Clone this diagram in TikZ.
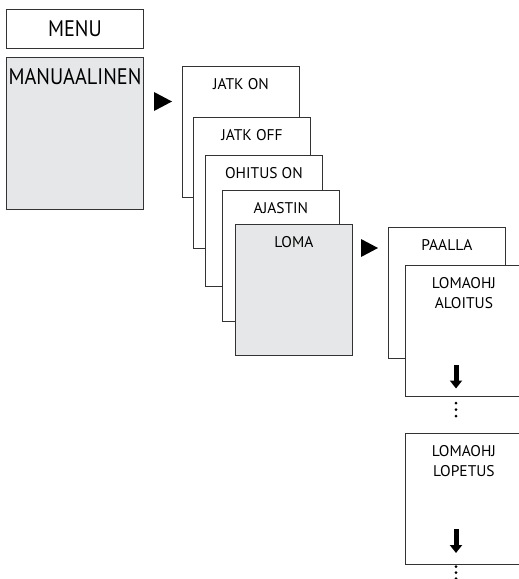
\documentclass[tikz,border=0pt]{standalone}
\usepackage{fontspec}
\setmainfont{PT Sans}
\usepackage{xcolor}
\usetikzlibrary{positioning,arrows.meta,calc}
\definecolor{menugray}{HTML}{E6E7E8}

\begin{document}
\begin{tikzpicture}[x=1pt, y=-1pt,
	menubox/.style={draw=black!80, line width=0.9pt, fill=white, anchor=north west,
		inner sep=0pt, minimum width=117pt, minimum height=131pt},
	boxtext/.style={inner sep=0pt, font=\fontsize{15.5}{20}\selectfont, align=center},
	bigtext/.style={inner sep=0pt, xscale=0.9, font=\fontsize{22.5}{26}\selectfont},
	downarrow/.style={line width=5pt, -{Triangle[width=12pt, length=8pt]}}]
		\useasboundingbox (0,0) rectangle (519,579);
		\clip (0,0) rectangle (519,579);
		% top level
		\node[menubox, minimum width=137pt, minimum height=39pt] (menu) at (6,9) {};
		\node[bigtext] (menu-t) at (menu.center) {MENU};
		\node[menubox, fill=menugray, minimum width=137pt, minimum height=152pt]
			(manual) at (6,57) {};
		\node[bigtext, below=11pt of manual.north] (manual-t) {MANUAALINEN};
		% next level marker
		\fill (154,92) -- (172,101.5) -- (154,111) -- cycle;
		% stacked sub menu
		\node[menubox] (jatkon) at (182,66) {};
		\node[boxtext, below=12pt of jatkon.north] (jatkon-t) {JATK ON};
		\node[menubox] (jatkoff) at (193,117) {};
		\node[boxtext, below=12pt of jatkoff.north] (jatkoff-t) {JATK OFF};
		\node[menubox] (ohitus) at (205,155) {};
		\node[boxtext, below=12pt of ohitus.north] (ohitus-t) {OHITUS ON};
		\node[menubox] (ajastin) at (222,190) {};
		\node[boxtext, below=12pt of ajastin.north] (ajastin-t) {AJASTIN};
		\node[menubox, fill=menugray] (loma) at (235,224) {};
		\node[boxtext, below=12pt of loma.north] (loma-t) {LOMA};
		% next level marker
		\fill (361,239) -- (378,248) -- (361,257) -- cycle;
		% holiday sub menu
		\node[menubox] (paalla) at (388,227) {};
		\node[boxtext, below=12pt of paalla.north] (paalla-t) {PAALLA};
		\node[menubox] (aloitus) at (405,265) {};
		\node[boxtext, below=12pt of aloitus.north] (aloitus-t) {LOMAOHJ\\ALOITUS};
		\node[menubox] (lopetus) at (405,433) {};
		\node[boxtext, below=12pt of lopetus.north] (lopetus-t) {LOMAOHJ\\LOPETUS};
		% down arrows
		\coordinate (a1) at (456,365);
		\coordinate (a2) at (456,388.5);
		\coordinate (b1) at (456,529);
		\coordinate (b2) at (456,553);
		\draw[downarrow] (a1) -- (a2);
		\draw[downarrow] (b1) -- (b2);
		% dots
		\foreach \y in {403,409.5,416} \fill (456,\y) circle (1.5);
		\foreach \y in {566.5,572.5,578.5} \fill (456,\y) circle (1.5);
	\end{tikzpicture}
\end{document}
